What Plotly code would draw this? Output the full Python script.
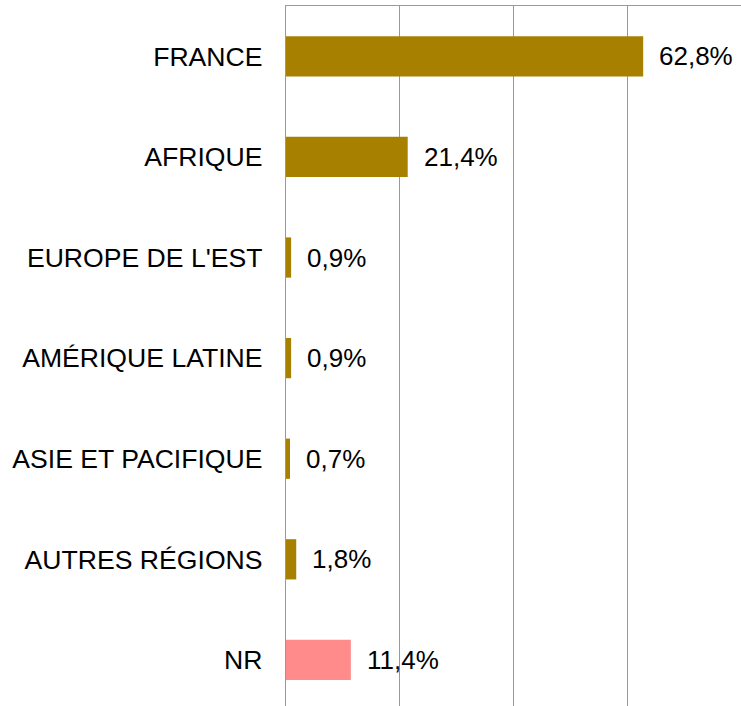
import plotly.graph_objects as go

categories = ["FRANCE", "AFRIQUE", "EUROPE DE L'EST", "AMÉRIQUE LATINE",
              "ASIE ET PACIFIQUE", "AUTRES RÉGIONS", "NR"]
values = [62.8, 21.4, 0.9, 0.9, 0.7, 1.8, 11.4]
bar_colors = ["#A88000"] * 6 + ["#FF8B8B"]
x_ticks = [0, 20, 40, 60, 80]

labels = [f"{v:.1f}".replace(".", ",") + "%" for v in values]

fig = go.Figure(go.Bar(
    x=values, y=categories, orientation="h",
    marker=dict(color=bar_colors, line=dict(width=0)),
    width=0.4,
    hoverinfo="skip",
))

for v, c, t in zip(values, categories, labels):
    fig.add_annotation(x=v, y=c, text=t, xanchor="left", yanchor="middle",
                       xshift=14, showarrow=False,
                       font=dict(family="Liberation Sans, Arial", size=26, color="#000000"))

fig.update_layout(
    width=741, height=706,
    margin=dict(l=286, r=0, t=6, b=0),
    paper_bgcolor="white", plot_bgcolor="white",
    showlegend=False,
    font=dict(family="Liberation Sans, Arial", size=26, color="#000000"),
)
fig.update_xaxes(
    range=[0, 80], tickvals=x_ticks, showticklabels=False,
    showgrid=True, gridcolor="#999999", gridwidth=1.3,
    showline=True, linecolor="#999999", linewidth=1.3, side="top",
    zeroline=False, fixedrange=True,
)
fig.update_yaxes(
    type="category", categoryorder="array", categoryarray=categories,
    range=[6.458, -0.5],
    showgrid=False, showline=True, linecolor="#999999", linewidth=1.3,
    ticks="", ticklabelstandoff=17,
    tickfont=dict(family="Liberation Sans, Arial", size=26.6, color="#000000"),
    fixedrange=True,
)

fig.write_html(
    "out.html",
    config={"displayModeBar": False},
    post_script="document.body.style.margin='0';document.body.style.overflow='hidden';",
)
